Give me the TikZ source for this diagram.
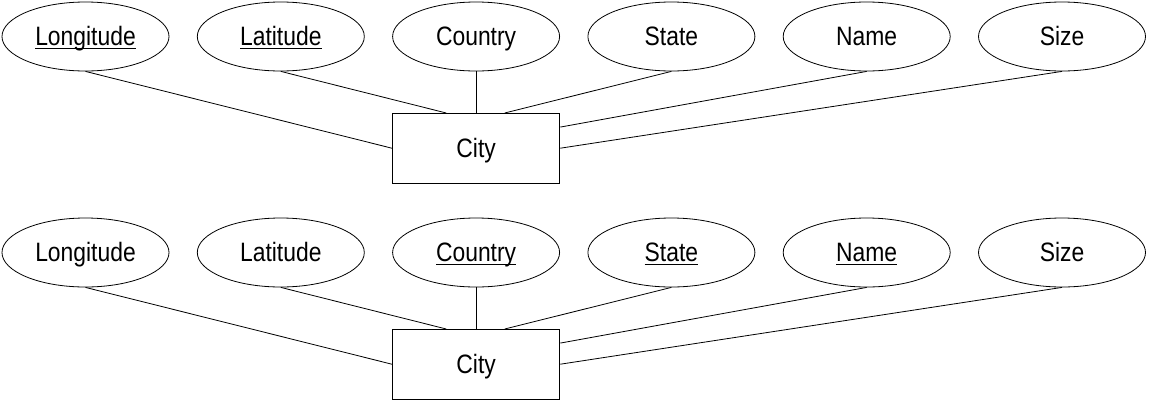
\documentclass[tikz,border=0pt]{standalone}
\usepackage{fontspec}
\setmainfont{Liberation Sans}[FakeStretch=0.86]
\usetikzlibrary{calc,positioning,shapes.geometric}
% key attributes: underline at a fixed depth
\newcommand{\keyattr}[1]{\setbox0=\hbox{#1}\rlap{\rule[-3.4pt]{\wd0}{1.3pt}}\box0}

\begin{document}
\begin{tikzpicture}[x=1pt,y=-1pt,
    attr/.style={ellipse,draw,line width=0.8pt,minimum width=167pt,minimum height=69pt,
      inner sep=0pt,text height=19pt,text depth=1pt,font=\fontsize{26.6}{28}\selectfont},
    entity/.style={rectangle,draw,line width=0.9pt,minimum width=167.5pt,minimum height=69.5pt,
      inner sep=0pt,text height=19pt,text depth=1pt,font=\fontsize{26.6}{28}\selectfont},
    link/.style={line width=0.8pt}]
    \pgfmathsetmacro{\gap}{27.5}
    \pgfmathsetmacro{\drop}{41.6}
    \useasboundingbox (0,0) rectangle (1150,402);

    % first schema: key = (Longitude, Latitude)
    \node[attr] (tLon) at (85.5,36.5) {\keyattr{Longitude}};
    \node[attr,right=\gap pt of tLon] (tLat) {\keyattr{Latitude}};
    \node[attr,right=\gap pt of tLat] (tCou) {Country};
    \node[attr,right=\gap pt of tCou] (tSta) {State};
    \node[attr,right=\gap pt of tSta] (tNam) {Name};
    \node[attr,right=\gap pt of tNam] (tSiz) {Size};
    \node[entity,below=\drop pt of tCou] (tCity) {City};

    \draw[link] (tLon.south) -- (tCity.west);
    \draw[link] (tLat.south) -- ($(tCity.north west)!0.323!(tCity.north east)$);
    \draw[link] (tCou.south) -- (tCity.north);
    \draw[link] (tSta.south) -- ($(tCity.north west)!0.67!(tCity.north east)$);
    \draw[link] (tNam.south) -- ($(tCity.north east)!0.2!(tCity.south east)$);
    \draw[link] (tSiz.south) -- (tCity.east);

    % second schema: key = (Country, State, Name)
    \node[attr] (bLon) at (85.5,252.5) {Longitude};
    \node[attr,right=\gap pt of bLon] (bLat) {Latitude};
    \node[attr,right=\gap pt of bLat] (bCou) {\keyattr{Country}};
    \node[attr,right=\gap pt of bCou] (bSta) {\keyattr{State}};
    \node[attr,right=\gap pt of bSta] (bNam) {\keyattr{Name}};
    \node[attr,right=\gap pt of bNam] (bSiz) {Size};
    \node[entity,below=\drop pt of bCou] (bCity) {City};

    \draw[link] (bLon.south) -- (bCity.west);
    \draw[link] (bLat.south) -- ($(bCity.north west)!0.323!(bCity.north east)$);
    \draw[link] (bCou.south) -- (bCity.north);
    \draw[link] (bSta.south) -- ($(bCity.north west)!0.67!(bCity.north east)$);
    \draw[link] (bNam.south) -- ($(bCity.north east)!0.2!(bCity.south east)$);
    \draw[link] (bSiz.south) -- (bCity.east);
\end{tikzpicture}
\end{document}
